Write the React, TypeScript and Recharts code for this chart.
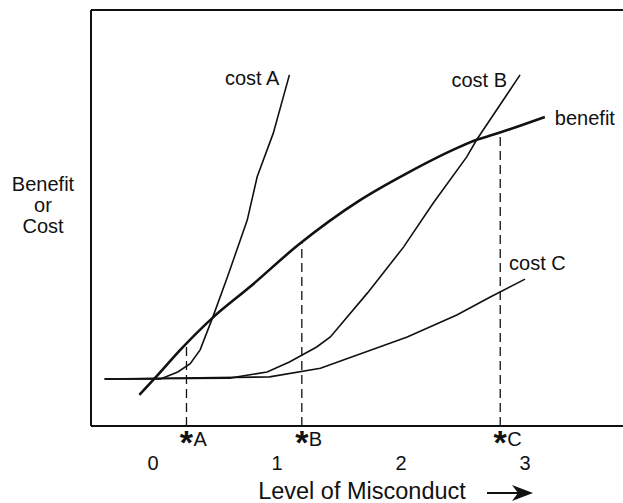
import React from "react"
import { LineChart, Line, XAxis, YAxis, ReferenceLine } from "recharts"

// x = level of misconduct, y = benefit or cost (arbitrary units, 0-100)
const benefit = [
  { x: -0.11, y: 7.5 },
  { x: 0.03, y: 12.0 },
  { x: 0.22, y: 18.3 },
  { x: 0.48, y: 26.0 },
  { x: 0.78, y: 33.4 },
  { x: 1.17, y: 43.5 },
  { x: 1.67, y: 54.3 },
  { x: 2.05, y: 60.8 },
  { x: 2.45, y: 66.8 },
  { x: 2.61, y: 68.8 },
  { x: 2.74, y: 70.0 },
  { x: 3.16, y: 74.3 },
]

const costA = [
  { x: -0.39, y: 11.3 },
  { x: 0.06, y: 11.3 },
  { x: 0.2, y: 13.0 },
  { x: 0.3, y: 15.0 },
  { x: 0.38, y: 18.3 },
  { x: 0.48, y: 26.0 },
  { x: 0.6, y: 35.8 },
  { x: 0.76, y: 49.5 },
  { x: 0.84, y: 59.9 },
  { x: 0.97, y: 70.4 },
  { x: 1.1, y: 84.4 },
]

const costB = [
  { x: -0.39, y: 11.3 },
  { x: 0.62, y: 11.5 },
  { x: 0.92, y: 13.0 },
  { x: 1.1, y: 15.4 },
  { x: 1.32, y: 19.0 },
  { x: 1.43, y: 21.4 },
  { x: 1.73, y: 32.0 },
  { x: 2.02, y: 43.0 },
  { x: 2.26, y: 53.6 },
  { x: 2.53, y: 64.7 },
  { x: 2.61, y: 68.8 },
  { x: 2.96, y: 84.4 },
]

const costC = [
  { x: -0.39, y: 11.3 },
  { x: 0.94, y: 11.8 },
  { x: 1.35, y: 13.9 },
  { x: 2.05, y: 21.4 },
  { x: 2.45, y: 26.7 },
  { x: 2.72, y: 31.0 },
  { x: 3.0, y: 35.3 },
]

const levelTicks = [0, 1, 2, 3]
const optimumNames = ["A", "B", "C"]
const optimumLevels = [0.27, 1.2, 2.8]

const FONT = "'Liberation Sans', Arial, Helvetica, sans-serif"
const INK = "#111"

// benefit value at a given level
function benefitAt(x: number) {
  for (let i = 1; i < benefit.length; i++) {
    const a = benefit[i - 1]
    const b = benefit[i]
    if (x <= b.x) return a.y + ((x - a.x) / (b.x - a.x)) * (b.y - a.y)
  }
  return benefit[benefit.length - 1].y
}

// curve name written next to the last point of each line
const endLabel = (text: string, n: number, dx: number, dy: number, anchor: string) =>
  (props: any) => {
    if (props.index !== n - 1) return null
    return (
      <text x={props.x + dx} y={props.y + dy} textAnchor={anchor} fontSize={20} fontFamily={FONT} fill={INK}>
        {text}
      </text>
    )
  }

function LevelTick(props: any) {
  const { x, y, payload } = props
  const k = optimumLevels.indexOf(payload.value)
  if (k >= 0) {
    return (
      <g>
        <text x={x} y={y + 28} textAnchor="middle" fontSize={34} fontWeight="bold" fontFamily={FONT} fill={INK}>*</text>
        <text x={x + 7} y={y + 20} textAnchor="start" fontSize={20} fontFamily={FONT} fill={INK}>{optimumNames[k]}</text>
      </g>
    )
  }
  return (
    <text x={x} y={y + 44} textAnchor="middle" fontSize={20} fontFamily={FONT} fill={INK}>
      {payload.value}
    </text>
  )
}

function AxisTitle() {
  return (
    <g>
      <text x={362} y={499} textAnchor="middle" fontSize={23.5} fontFamily={FONT} fill={INK}>
        Level of Misconduct
      </text>
      <line x1={487} y1={493} x2={520} y2={493} stroke={INK} strokeWidth={2} />
      <path d="M533,493 L512,485 L518,493 L512,501 Z" fill={INK} />
    </g>
  )
}

export default function App() {
  return (
    <div style={{ position: "absolute", left: 0, top: 0, width: 623, height: 503, overflow: "hidden", background: "#fff" }}>
      <div style={{ position: "absolute", left: 3, top: 174, width: 80, textAlign: "center", fontFamily: FONT, fontSize: 20, lineHeight: "21px", color: INK }}>
        Benefit<br />or<br />Cost
      </div>
      <LineChart width={623} height={503} margin={{ top: 10, right: 0, left: 91, bottom: 17 }}>
        <XAxis
          type="number"
          dataKey="x"
          domain={[-0.5, 3.79]}
          allowDataOverflow
          ticks={[...levelTicks, ...optimumLevels]}
          interval={0}
          tick={<LevelTick />}
          tickLine={false}
          tickSize={0}
          tickMargin={0}
          height={60}
          axisLine={{ stroke: INK, strokeWidth: 2 }}
          label={<AxisTitle />}
        />
        <YAxis type="number" dataKey="y" domain={[0, 100]} hide allowDataOverflow />
        <ReferenceLine y={100} stroke={INK} strokeWidth={2} />
        <ReferenceLine x={-0.5} stroke={INK} strokeWidth={2} />
        {optimumLevels.map((lv) => (
          <ReferenceLine
            key={lv}
            segment={[{ x: lv, y: 0 }, { x: lv, y: benefitAt(lv) }]}
            stroke={INK}
            strokeWidth={1.3}
            strokeDasharray="9 5"
          />
        ))}
        <Line data={costA} dataKey="y" type="linear" stroke={INK} strokeWidth={1.6} dot={false} isAnimationActive={false}
          label={endLabel("cost A", costA.length, -10, 10, "end")} />
        <Line data={costB} dataKey="y" type="linear" stroke={INK} strokeWidth={1.6} dot={false} isAnimationActive={false}
          label={endLabel("cost B", costB.length, -13, 12, "end")} />
        <Line data={costC} dataKey="y" type="linear" stroke={INK} strokeWidth={1.6} dot={false} isAnimationActive={false}
          label={endLabel("cost C", costC.length, -16, -9, "start")} />
        <Line data={benefit} dataKey="y" type="monotone" stroke={INK} strokeWidth={2.6} dot={false} isAnimationActive={false}
          label={endLabel("benefit", benefit.length, 10, 8, "start")} />
      </LineChart>
    </div>
  )
}
